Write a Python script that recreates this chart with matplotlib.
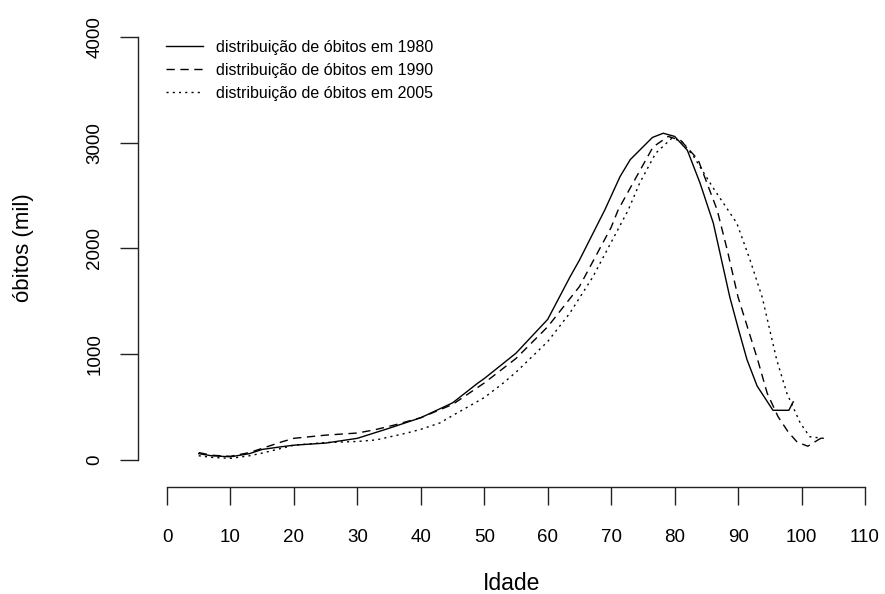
import matplotlib
matplotlib.use("Agg")
import matplotlib.pyplot as plt

plt.rcParams['font.family'] = ['Liberation Sans', 'DejaVu Sans']

# distribuição de óbitos (mil) por idade
idade_1980 = [5, 7, 10, 13, 15, 18, 20, 25, 30, 35, 38, 40, 45, 49, 50, 55, 60, 63.5, 65,
              69, 71.4, 73, 75, 76.5, 78.2, 80, 82, 84, 86.1, 88.7, 90, 91.4, 93, 95.5, 98,
              98.7]
obitos_1980 = [60, 40, 30, 60, 100, 125, 140, 160, 205, 300, 360, 400, 540, 728, 770, 1010,
               1330, 1730, 1890, 2365, 2680, 2840, 2960, 3050, 3090, 3060, 2930, 2620, 2240,
               1540, 1250, 950, 700, 470, 470, 550]

idade_1990 = [5, 7, 10, 13, 15, 18, 20, 25, 30, 32.7, 35.8, 40, 45, 50, 55, 60, 65, 70,
              71.1, 74, 76.6, 79, 81, 83.7, 86.7, 88.3, 90, 93.1, 94.6, 96.3, 97.9, 99.3,
              101, 102.6, 103.5]
obitos_1990 = [70, 45, 35, 70, 110, 170, 205, 235, 255, 285, 330, 400, 525, 728, 960, 1260,
               1640, 2200, 2365, 2680, 2960, 3060, 3020, 2840, 2365, 1985, 1540, 945, 630,
               410, 265, 170, 130, 190, 220]

idade_2005 = [5, 7, 10, 13, 15, 18, 20, 25, 30, 33, 37.8, 40, 43, 45, 50, 53, 55, 60, 63.5,
              67.1, 72.7, 74.5, 77, 79.5, 81, 83, 86, 89.8, 91.9, 93.8, 96.1, 97.7, 99.8,
              101.3, 103.4, 104.1]
obitos_2005 = [40, 25, 15, 40, 65, 110, 140, 165, 175, 190, 255, 290, 350, 420, 590, 728,
               830, 1120, 1390, 1730, 2365, 2620, 2900, 3040, 3020, 2870, 2580, 2240, 1890,
               1540, 945, 630, 350, 220, 205, 225]

xticks = list(range(0, 111, 10))
yticks = [0, 1000, 2000, 3000, 4000]
legenda = ['distribuição de óbitos em 1980',
           'distribuição de óbitos em 1990',
           'distribuição de óbitos em 2005']

fig = plt.figure(figsize=(8.85, 5.94), dpi=100)
ax = fig.add_axes([0.1457, 0.1722, 0.846, 0.7833])

ax.plot(idade_1980, obitos_1980, color='black', lw=1.0, ls='-', label=legenda[0])
ax.plot(idade_1990, obitos_1990, color='black', lw=1.0, ls=(0, (6, 4)), label=legenda[1])
ax.plot(idade_2005, obitos_2005, color='black', lw=1.0, ls=(0, (1.5, 3)), label=legenda[2])

ax.set_xlim(-6, 112)
ax.set_ylim(-300, 4100)

# eixos no estilo do R
for s in ['top', 'right']:
    ax.spines[s].set_visible(False)
ax.spines['bottom'].set_position(('data', -255))
ax.spines['left'].set_position(('data', -4.57))
ax.spines['bottom'].set_bounds(0, 110)
ax.spines['left'].set_bounds(0, 4000)
for s in ['bottom', 'left']:
    ax.spines[s].set_linewidth(1.0)
    ax.spines[s].set_color('#222222')

ax.set_xticks(xticks)
ax.set_yticks(yticks)
ax.set_yticklabels([str(v) for v in yticks], rotation=90, va='center')
ax.tick_params(axis='both', length=13, width=1.0, color='#222222', labelsize=13.5)
ax.tick_params(axis='x', pad=17.5)
ax.tick_params(axis='y', pad=12)

fig.text(512 / 885, 1 - 583 / 594, 'Idade', ha='center', va='center', fontsize=16.5)
fig.text(23 / 885, 1 - 248 / 594, 'óbitos (mil)', ha='center', va='center',
         rotation=90, fontsize=16)

ax.legend(loc='upper left', bbox_to_anchor=(166 / 885, 1 - 40 / 594),
          bbox_transform=fig.transFigure, frameon=False, fontsize=11.5,
          handlelength=2.3, handletextpad=0.85, labelspacing=0.5,
          borderaxespad=0, borderpad=0)

fig.savefig('out.png', dpi=100)
